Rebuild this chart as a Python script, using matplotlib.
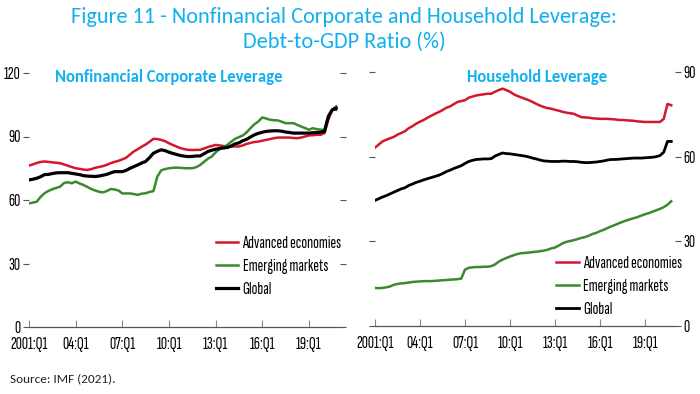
import numpy as np
import matplotlib
matplotlib.use("Agg")
import matplotlib.pyplot as plt
from matplotlib import font_manager

# quarterly, 2001:Q1 .. 2020:Q4
corp_advanced = [
    76.3, 76.8, 77.5, 78.0, 78.2, 78.0, 77.8, 77.6, 77.4, 76.8, 76.2, 75.6,
    75.0, 74.7, 74.4, 74.2, 74.6, 75.2, 75.6, 76.0, 76.6, 77.4, 78.0, 78.5,
    79.2, 80.0, 81.5, 83.0, 84.0, 85.2, 86.2, 87.5, 88.9, 88.8, 88.4, 87.8,
    86.8, 86.0, 85.2, 84.5, 84.0, 83.7, 83.6, 83.7, 83.7, 84.3, 85.0, 85.5,
    86.0, 85.8, 85.5, 85.3, 85.3, 85.3, 85.3, 85.8, 86.5, 87.0, 87.4, 87.6,
    88.0, 88.4, 88.8, 89.2, 89.5, 89.5, 89.5, 89.5, 89.3, 89.2, 89.5, 90.0,
    90.5, 90.6, 90.8, 90.8, 91.6, 97.9, 102.6, 102.6,
]
corp_emerging = [
    58.4, 58.8, 59.2, 61.5, 63.2, 64.3, 65.1, 65.7, 66.3, 68.0, 68.4, 67.9,
    68.7, 67.8, 67.1, 66.2, 65.2, 64.5, 63.9, 63.6, 64.2, 65.2, 65.0, 64.5,
    63.1, 63.1, 63.1, 62.8, 62.4, 63.0, 63.2, 63.8, 64.2, 71.0, 74.0, 74.6,
    75.0, 75.2, 75.3, 75.2, 75.0, 75.0, 75.0, 75.5, 76.5, 78.0, 79.5, 80.5,
    82.5, 84.0, 85.0, 86.0, 87.5, 88.9, 89.7, 90.5, 92.0, 94.0, 95.8, 97.1,
    99.0, 98.5, 97.9, 97.7, 97.6, 97.0, 96.3, 96.3, 96.3, 95.5, 94.7, 94.0,
    93.2, 93.9, 93.5, 93.2, 93.2, 99.5, 102.6, 104.2,
]
corp_global = [
    69.5, 69.8, 70.3, 71.0, 72.0, 72.1, 72.5, 72.8, 72.9, 72.9, 72.9, 72.6,
    72.3, 72.0, 71.5, 71.3, 71.2, 71.1, 71.3, 71.7, 72.1, 72.8, 73.4, 73.4,
    73.4, 74.0, 75.0, 75.8, 76.6, 77.5, 78.2, 80.0, 82.1, 83.0, 83.7, 83.3,
    82.6, 82.0, 81.5, 81.0, 80.7, 80.5, 80.6, 80.8, 80.8, 81.8, 82.9, 83.5,
    84.0, 84.3, 84.6, 84.8, 85.5, 86.5, 87.0, 88.0, 88.7, 89.8, 90.8, 91.5,
    92.0, 92.4, 92.6, 92.7, 92.7, 92.5, 92.1, 91.9, 91.6, 91.6, 91.6, 91.6,
    91.6, 91.8, 91.9, 92.0, 92.4, 99.5, 102.6, 103.4,
]

hh_advanced = [
    63.2, 64.3, 65.4, 66.0, 66.5, 67.0, 67.8, 68.4, 69.0, 70.1, 70.8, 71.7,
    72.4, 73.0, 73.8, 74.5, 75.2, 75.8, 76.5, 77.3, 77.8, 78.6, 79.4, 79.7,
    80.0, 80.9, 81.3, 81.7, 81.9, 82.1, 82.3, 82.3, 83.0, 83.6, 84.1, 83.6,
    83.0, 82.1, 81.5, 81.0, 80.5, 80.0, 79.4, 78.7, 78.1, 77.6, 77.2, 77.0,
    76.6, 76.3, 75.9, 75.6, 75.4, 75.2, 74.6, 74.0, 73.9, 73.8, 73.6, 73.5,
    73.4, 73.4, 73.4, 73.3, 73.2, 73.0, 73.0, 72.9, 72.8, 72.7, 72.5, 72.4,
    72.3, 72.3, 72.3, 72.3, 72.3, 73.4, 78.7, 78.2,
]
hh_emerging = [
    13.5, 13.4, 13.5, 13.7, 14.0, 14.6, 14.9, 15.1, 15.2, 15.4, 15.6, 15.7,
    15.8, 15.9, 15.9, 15.9, 16.0, 16.1, 16.2, 16.3, 16.4, 16.5, 16.6, 16.8,
    20.0, 20.6, 20.8, 20.9, 20.9, 21.0, 21.0, 21.2, 21.8, 22.8, 23.5, 24.1,
    24.6, 25.1, 25.5, 25.8, 25.9, 26.0, 26.2, 26.3, 26.5, 26.7, 27.0, 27.5,
    27.8, 28.5, 29.3, 29.8, 30.1, 30.4, 30.8, 31.2, 31.5, 32.0, 32.6, 33.0,
    33.6, 34.1, 34.7, 35.3, 35.8, 36.4, 36.9, 37.4, 37.8, 38.2, 38.6, 39.1,
    39.6, 40.0, 40.5, 41.0, 41.5, 42.1, 43.0, 44.2,
]
hh_global = [
    44.5, 45.1, 45.7, 46.2, 46.8, 47.4, 48.0, 48.6, 49.0, 49.8, 50.3, 50.9,
    51.3, 51.8, 52.2, 52.6, 53.0, 53.4, 54.0, 54.7, 55.2, 55.8, 56.3, 56.8,
    57.6, 58.3, 58.7, 59.0, 59.1, 59.2, 59.2, 59.3, 60.2, 60.8, 61.3, 61.1,
    61.0, 60.8, 60.6, 60.4, 60.2, 59.9, 59.5, 59.2, 58.8, 58.5, 58.4, 58.3,
    58.3, 58.3, 58.4, 58.4, 58.3, 58.3, 58.2, 58.0, 57.9, 57.9, 58.0, 58.1,
    58.3, 58.5, 58.8, 59.0, 59.0, 59.1, 59.2, 59.3, 59.4, 59.5, 59.5, 59.5,
    59.6, 59.7, 59.8, 60.0, 60.4, 61.6, 65.4, 65.4,
]

tick_years = [2001, 2004, 2007, 2010, 2013, 2016, 2019]
tick_labels = ["2001:Q1", "04:Q1", "07:Q1", "10:Q1", "13:Q1", "16:Q1", "19:Q1"]
series_names = ["Advanced economies", "Emerging markets", "Global"]

RED = "#d3172e"
GREEN = "#3b8a2e"
BLUE = "#12b0ee"


def pick_font(names):
    for n in names:
        try:
            font_manager.findfont(n, fallback_to_default=False)
            return n
        except Exception:
            pass
    return "DejaVu Sans"


narrow = pick_font(["Sofia Sans Extra Condensed", "Roboto Condensed", "DejaVu Sans"])
title_font = pick_font(["Carlito", "Lato", "DejaVu Sans"])

years = 2001 + np.arange(len(corp_global)) / 4.0

fig = plt.figure(figsize=(7, 3.94), dpi=100)
ax1 = fig.add_axes([29 / 700, 67 / 394, 311 / 700, 254 / 394])
ax2 = fig.add_axes([375 / 700, 68 / 394, 300 / 700, 254 / 394])


def style(ax, ymax, step, label_side):
    ax.set_xlim(2001, 2021)
    ax.set_ylim(0, ymax)
    for s in ["top", "left", "right"]:
        ax.spines[s].set_visible(False)
    ax.spines["bottom"].set_color("#555555")
    ax.spines["bottom"].set_linewidth(0.9)
    ax.set_xticks(tick_years)
    ax.set_xticklabels(tick_labels, fontfamily=narrow, fontsize=12.5)
    ax.tick_params(axis="x", direction="in", length=5, color="#888888", pad=7)
    ax.set_yticks(np.arange(0, ymax + 1, step))
    ax.tick_params(axis="y", direction="out", length=4, color="#555555",
                   left=True, right=True, pad=2,
                   labelleft=(label_side == "left"),
                   labelright=(label_side == "right"))
    for t in ax.get_yticklabels():
        t.set_fontfamily(narrow)
        t.set_fontsize(12.5)


ax1.plot(years, corp_advanced, color=RED, lw=1.8, label=series_names[0])
ax1.plot(years, corp_emerging, color=GREEN, lw=1.8, label=series_names[1])
ax1.plot(years, corp_global, color="black", lw=2.3, label=series_names[2])
style(ax1, 120, 30, "left")

ax2.plot(years, hh_advanced, color=RED, lw=1.8, label=series_names[0])
ax2.plot(years, hh_emerging, color=GREEN, lw=1.8, label=series_names[1])
ax2.plot(years, hh_global, color="black", lw=2.0, label=series_names[2])
style(ax2, 90, 30, "right")

leg_kw = dict(frameon=False, borderpad=0, borderaxespad=0, handlelength=1.3,
              handletextpad=0.25, labelspacing=0.45,
              prop={"family": narrow, "size": 12.5})
ax1.legend(loc="upper left", bbox_to_anchor=(0.6, 0.36), **leg_kw)
ax2.legend(loc="upper left", bbox_to_anchor=(0.605, 0.277), **leg_kw)

ax1.text(0.45, 0.985, "Nonfinancial Corporate Leverage", transform=ax1.transAxes,
         ha="center", va="center", color=BLUE, fontsize=12, fontweight="bold",
         fontfamily=title_font)
ax2.text(0.54, 0.98, "Household Leverage", transform=ax2.transAxes,
         ha="center", va="center", color=BLUE, fontsize=12, fontweight="bold",
         fontfamily=title_font)

fig.text(344 / 700, 1 - 17 / 394,
         "Figure 11 - Nonfinancial Corporate and Household Leverage:",
         ha="center", va="center", color=BLUE, fontsize=16, fontfamily=title_font)
fig.text(344 / 700, 1 - 42 / 394, "Debt-to-GDP Ratio (%)",
         ha="center", va="center", color=BLUE, fontsize=16, fontfamily=title_font)

fig.text(10 / 700, 1 - 379 / 394, "Source: IMF (2021).", ha="left", va="center",
         fontsize=9.5, color="#222222", fontfamily=title_font)

fig.savefig("out.png", dpi=100)
